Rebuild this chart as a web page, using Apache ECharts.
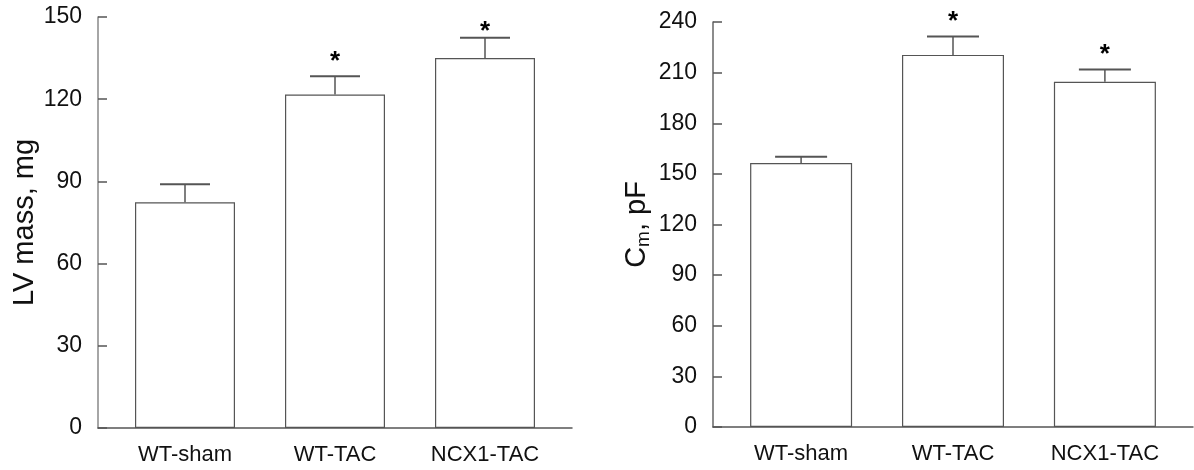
<!DOCTYPE html>
<html>
<head>
<meta charset="utf-8">
<script src="https://cdn.jsdelivr.net/npm/echarts@6/dist/echarts.min.js"></script>
<style>
html,body{margin:0;padding:0;background:#fff;}
#c{width:1194px;height:470px;}
</style>
</head>
<body>
<div id="c"></div>
<script>
const categories = ['WT-sham', 'WT-TAC', 'NCX1-TAC'];
const lvMass = [82.4, 121.7, 135.0];
const lvMassErr = [89.0, 128.4, 142.4];
const lvStar = [null, 135.4, 146.3];
const cm = [156.4, 220.5, 204.6];
const cmErr = [160.1, 231.4, 211.8];
const cmStar = [null, 243.0, 223.3];
const positions = [1, 2, 3];

const FONT = '"Liberation Sans", Arial, sans-serif';

function errRender(capW) {
  return function (params, api) {
    const x = api.value(0), top = api.value(1), err = api.value(2);
    const p0 = api.coord([x, top]);
    const p1 = api.coord([x, err]);
    return {
      type: 'group',
      children: [
        { type: 'line', shape: { x1: p0[0], y1: p0[1], x2: p1[0], y2: p1[1] }, style: { stroke: '#555', lineWidth: 1.5 } },
        { type: 'line', shape: { x1: p1[0] - capW / 2, y1: p1[1], x2: p1[0] + capW / 2, y2: p1[1] }, style: { stroke: '#555', lineWidth: 2 } }
      ]
    };
  };
}
function starRender(params, api) {
  const p = api.coord([api.value(0), api.value(1)]);
  return {
    type: 'text',
    style: { x: p[0], y: p[1] + 5, text: '*', fill: '#000', font: 'bold 26px ' + FONT, textAlign: 'center', textVerticalAlign: 'middle' }
  };
}

function xAxisDef(gridIndex) {
  return {
    type: 'value', gridIndex: gridIndex, min: 0.42, max: 3.58,
    splitLine: { show: false },
    axisTick: { show: false },
    axisLine: { show: true, lineStyle: { color: '#555', width: 1.5 } },
    axisLabel: {
      customValues: positions,
      formatter: function (v) { return categories[Math.round(v) - 1] || ''; },
      fontSize: 22, color: '#111', fontFamily: FONT, margin: 16
    }
  };
}
function yAxisDef(gridIndex, max, name, lineColor, gap, rich) {
  return {
    type: 'value', gridIndex: gridIndex, min: 0, max: max, interval: 30,
    name: name, nameLocation: 'middle', nameGap: gap,
    nameTextStyle: Object.assign({ fontSize: 29, color: '#111', fontFamily: FONT }, rich ? { rich: rich } : {}),
    splitLine: { show: false },
    axisLine: { show: true, lineStyle: { color: lineColor, width: 1.5 } },
    axisTick: { show: true, inside: true, length: 9, lineStyle: { color: '#555', width: 1.5 } },
    axisLabel: { fontSize: 23, color: '#111', fontFamily: FONT, margin: 16 }
  };
}

const chart = echarts.init(document.getElementById('c'), null, { renderer: 'canvas' });
chart.setOption({
  backgroundColor: '#fff',
  animation: false,
  grid: [
    { left: 98, right: 622, top: 17, bottom: 42 },
    { left: 713, right: 1, top: 22, bottom: 43 }
  ],
  xAxis: [xAxisDef(0), xAxisDef(1)],
  yAxis: [
    yAxisDef(0, 150, 'LV mass, mg', '#888', 56, null),
    yAxisDef(1, 240, '{c|C}{s|m}{c|, pF}', '#666', 60, {
      c: { fontSize: 29, lineHeight: 32, color: '#111', fontFamily: FONT },
      s: { fontSize: 19, lineHeight: 18, verticalAlign: 'bottom', color: '#111', fontFamily: FONT }
    })
  ],
  series: [
    {
      type: 'bar', xAxisIndex: 0, yAxisIndex: 0, barWidth: 100,
      data: positions.map((p, i) => [p, lvMass[i]]),
      itemStyle: { color: '#fff', borderColor: '#555', borderWidth: 1.2 }
    },
    {
      type: 'custom', xAxisIndex: 0, yAxisIndex: 0, renderItem: errRender(50), z: 3,
      data: positions.map((p, i) => [p, lvMass[i], lvMassErr[i]])
    },
    {
      type: 'custom', xAxisIndex: 0, yAxisIndex: 0, renderItem: starRender, clip: false, z: 4,
      data: positions.map((p, i) => [p, lvStar[i]]).filter(d => d[1] !== null)
    },
    {
      type: 'bar', xAxisIndex: 1, yAxisIndex: 1, barWidth: 102,
      data: positions.map((p, i) => [p, cm[i]]),
      itemStyle: { color: '#fff', borderColor: '#555', borderWidth: 1.2 }
    },
    {
      type: 'custom', xAxisIndex: 1, yAxisIndex: 1, renderItem: errRender(52), z: 3,
      data: positions.map((p, i) => [p, cm[i], cmErr[i]])
    },
    {
      type: 'custom', xAxisIndex: 1, yAxisIndex: 1, renderItem: starRender, clip: false, z: 4,
      data: positions.map((p, i) => [p, cmStar[i]]).filter(d => d[1] !== null)
    }
  ]
});
</script>
</body>
</html>
